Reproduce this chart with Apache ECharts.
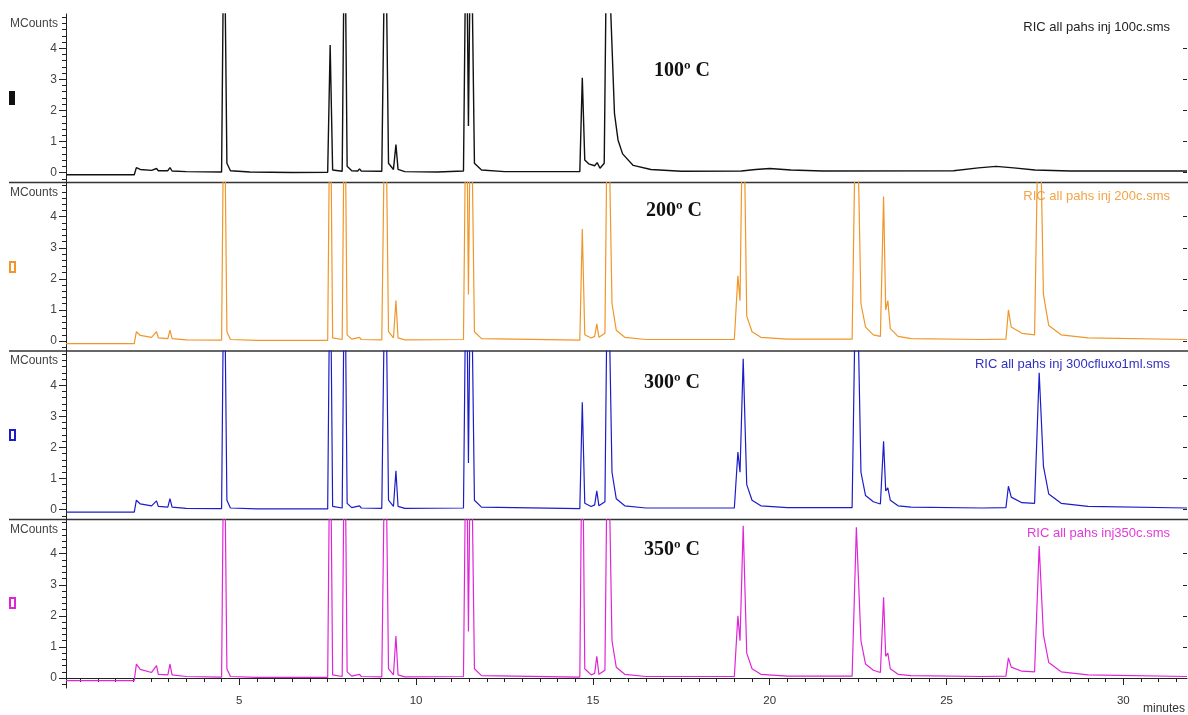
<!DOCTYPE html>
<html>
<head>
<meta charset="utf-8">
<script src="https://cdn.jsdelivr.net/npm/echarts@6/dist/echarts.min.js"></script>
<style>
  html, body { margin: 0; padding: 0; background: #ffffff; }
  #chart { width: 1188px; height: 715px; }
</style>
</head>
<body>
<div id="chart"></div>
<script>
// Retention time (minutes) vs. RIC intensity (MCounts), one trace per injector temperature.
const ric100 = [
  [0.1,-0.07],[2.03,-0.07],[2.09,0.16],[2.2,0.1],[2.52,0.07],[2.66,0.13],[2.71,0.06],[2.98,0.06],[3.04,0.16],[3.1,0.05],
  [3.5,0.03],[4.5,0.02],[4.57,9],[4.65,0.3],[4.75,0.06],[5.3,0.02],[6.5,0.0],[7.5,0.01],[7.57,4.1],[7.64,0.08],
  [7.91,0.04],[7.98,9],[8.05,0.2],[8.18,0.06],[8.35,0.05],[8.4,0.12],[8.45,0.05],[9.03,0.04],[9.13,9],[9.22,0.3],
  [9.36,0.1],[9.43,0.9],[9.49,0.1],[9.68,0.03],[10.6,0.02],[11.34,0.05],[11.42,9],[11.48,1.5],[11.55,9],[11.65,0.3],
  [11.85,0.08],[12.5,0.03],[14.63,0.03],[14.7,3.05],[14.77,0.4],[14.88,0.28],[15.05,0.22],[15.12,0.32],[15.2,0.14],[15.32,0.3],
  [15.4,9],[15.51,5],[15.61,1.9],[15.71,1.05],[15.84,0.6],[16.14,0.23],[16.64,0.1],[17.5,0.04],[19.2,0.05],[19.6,0.1],
  [20.0,0.13],[20.6,0.08],[21.5,0.05],[25.2,0.06],[25.9,0.15],[26.4,0.2],[26.9,0.15],[27.5,0.08],[28.5,0.05],[31.8,0.05]
];
const ric200 = [
  [0.1,-0.08],[2.03,-0.08],[2.09,0.3],[2.2,0.18],[2.52,0.12],[2.66,0.3],[2.71,0.1],[2.98,0.08],[3.04,0.35],[3.1,0.08],
  [3.5,0.04],[4.5,0.03],[4.57,9],[4.65,0.3],[4.75,0.05],[5.5,0.02],[7.5,0.02],[7.57,9],[7.64,0.1],[7.91,0.05],
  [7.98,9],[8.05,0.2],[8.18,0.06],[8.4,0.12],[8.45,0.05],[9.03,0.04],[9.13,9],[9.22,0.3],[9.36,0.1],[9.43,1.3],
  [9.49,0.1],[9.68,0.04],[11.34,0.05],[11.42,9],[11.48,1.5],[11.55,9],[11.65,0.3],[11.85,0.08],[14.63,0.03],[14.7,3.6],
  [14.77,0.2],[14.95,0.1],[15.05,0.15],[15.11,0.55],[15.17,0.12],[15.34,0.25],[15.42,9],[15.54,1.2],[15.66,0.35],[15.9,0.12],
  [16.5,0.05],[19.0,0.05],[19.1,2.1],[19.16,1.3],[19.25,9],[19.35,0.8],[19.5,0.3],[19.75,0.12],[20.5,0.06],[22.33,0.06],
  [22.45,9],[22.58,1.2],[22.71,0.45],[22.93,0.2],[23.13,0.15],[23.22,4.65],[23.28,1.0],[23.34,1.3],[23.41,0.4],[23.63,0.15],
  [24.0,0.08],[26.0,0.05],[26.68,0.06],[26.75,1.0],[26.83,0.45],[27.13,0.25],[27.49,0.2],[27.62,9],[27.74,1.5],[27.89,0.5],
  [28.24,0.2],[29.0,0.1],[31.8,0.05]
];
const ric300 = [
  [0.1,-0.08],[2.03,-0.08],[2.09,0.3],[2.2,0.18],[2.52,0.12],[2.66,0.28],[2.71,0.1],[2.98,0.08],[3.04,0.35],[3.1,0.08],
  [3.5,0.04],[4.5,0.03],[4.57,9],[4.65,0.3],[4.75,0.05],[5.5,0.02],[7.5,0.02],[7.57,9],[7.64,0.1],[7.91,0.05],
  [7.98,9],[8.05,0.2],[8.18,0.06],[8.4,0.12],[8.45,0.05],[9.03,0.04],[9.13,9],[9.22,0.3],[9.36,0.1],[9.43,1.25],
  [9.49,0.1],[9.68,0.04],[11.34,0.05],[11.42,9],[11.48,1.5],[11.55,9],[11.65,0.3],[11.85,0.08],[14.63,0.03],[14.7,3.45],
  [14.77,0.2],[14.95,0.1],[15.05,0.15],[15.11,0.6],[15.17,0.12],[15.34,0.25],[15.42,9],[15.54,1.2],[15.66,0.35],[15.9,0.12],
  [16.5,0.05],[19.0,0.05],[19.1,1.85],[19.16,1.2],[19.25,4.85],[19.35,0.8],[19.5,0.3],[19.75,0.12],[20.5,0.06],[22.33,0.06],
  [22.45,9],[22.58,1.2],[22.71,0.45],[22.93,0.25],[23.13,0.18],[23.22,2.2],[23.28,0.6],[23.34,0.7],[23.41,0.3],[23.63,0.12],
  [24.0,0.08],[26.0,0.05],[26.68,0.06],[26.75,0.75],[26.83,0.4],[27.13,0.22],[27.49,0.2],[27.62,4.4],[27.74,1.4],[27.89,0.5],
  [28.24,0.2],[29.0,0.1],[31.8,0.05]
];
const ric350 = [
  [0.1,-0.08],[2.03,-0.08],[2.09,0.45],[2.2,0.28],[2.52,0.18],[2.66,0.4],[2.71,0.12],[2.98,0.1],[3.04,0.45],[3.1,0.1],
  [3.5,0.05],[4.5,0.03],[4.57,9],[4.65,0.3],[4.75,0.05],[5.5,0.02],[7.5,0.02],[7.57,9],[7.64,0.1],[7.91,0.05],
  [7.98,9],[8.05,0.2],[8.18,0.06],[8.4,0.12],[8.45,0.05],[9.03,0.04],[9.13,9],[9.22,0.3],[9.36,0.1],[9.43,1.35],
  [9.49,0.1],[9.68,0.04],[11.34,0.05],[11.42,9],[11.48,1.5],[11.55,9],[11.65,0.3],[11.85,0.08],[14.63,0.03],[14.7,9],
  [14.77,0.3],[14.95,0.1],[15.05,0.15],[15.11,0.7],[15.17,0.12],[15.34,0.25],[15.42,9],[15.54,1.2],[15.66,0.35],[15.9,0.12],
  [16.5,0.05],[19.0,0.05],[19.1,2.0],[19.16,1.2],[19.25,4.9],[19.35,0.8],[19.5,0.3],[19.75,0.12],[20.5,0.06],[22.33,0.06],
  [22.45,4.85],[22.58,1.2],[22.71,0.45],[22.93,0.25],[23.13,0.18],[23.22,2.6],[23.28,0.7],[23.34,0.8],[23.41,0.3],[23.63,0.12],
  [24.0,0.08],[26.0,0.05],[26.68,0.06],[26.75,0.65],[26.83,0.35],[27.13,0.22],[27.49,0.2],[27.62,4.25],[27.74,1.4],[27.89,0.5],
  [28.24,0.2],[29.0,0.1],[31.8,0.05]
];

// Axis tick positions
const minuteTicks = [5, 10, 15, 20, 25, 30];
const minuteMinorTicks = [0.5,1,1.5,2,2.5,3,3.5,4,4.5,5.5,6,6.5,7,7.5,8,8.5,9,9.5,10.5,11,11.5,12,12.5,13,13.5,14,14.5,
  15.5,16,16.5,17,17.5,18,18.5,19,19.5,20.5,21,21.5,22,22.5,23,23.5,24,24.5,25.5,26,26.5,27,27.5,28,28.5,29,29.5,30.5,31,31.5];
const countTicks = [0, 1, 2, 3, 4];
const countMinorTicks = [-0.2,0.2,0.4,0.6,0.8,1.2,1.4,1.6,1.8,2.2,2.4,2.6,2.8,3.2,3.4,3.6,3.8,4.2,4.4,4.6,4.8,5.0];

// Trace descriptions
const runFiles = ['RIC all pahs inj 100c.sms', 'RIC all pahs inj 200c.sms', 'RIC all pahs inj 300cfluxo1ml.sms', 'RIC all pahs inj350c.sms'];
const runTemps = ['100º C', '200º C', '300º C', '350º C'];
const runColors = ['#111111', '#f0962a', '#1c1cc8', '#e025d8'];
const runFileColors = ['#222222', '#f2a448', '#3030c0', '#e03ad8'];
const runData = [ric100, ric200, ric300, ric350];

const X_MIN = 0.1, X_MAX = 31.8;
const Y_MIN = -0.32, Y_MAX = 5.1;
const PANEL_TOPS = [14, 182.5, 351, 519.5];
const PANEL_H = 168.5;
const AXIS_COLOR = '#222222';
const SANS = 'Liberation Sans, Arial, sans-serif';

const grids = PANEL_TOPS.map(t => ({ left: 66, right: 1, top: t, height: PANEL_H }));

const xAxes = PANEL_TOPS.map((t, i) => ({
  gridIndex: i, type: 'value', min: X_MIN, max: X_MAX, position: 'bottom',
  show: i === 3,
  axisLine: { show: true, lineStyle: { color: AXIS_COLOR, width: 1 } },
  axisTick: { show: true, customValues: minuteTicks, length: 7, lineStyle: { color: AXIS_COLOR } },
  axisLabel: { show: true, customValues: minuteTicks, fontSize: 11.5, color: '#333', margin: 7, fontFamily: SANS },
  splitLine: { show: false }
}));
xAxes.push({
  gridIndex: 3, type: 'value', min: X_MIN, max: X_MAX, position: 'bottom',
  axisLine: { show: false },
  axisTick: { show: true, customValues: minuteMinorTicks, length: 4, lineStyle: { color: AXIS_COLOR } },
  axisLabel: { show: false },
  splitLine: { show: false }
});

const yAxes = [];
PANEL_TOPS.forEach((t, i) => {
  yAxes.push({
    gridIndex: i, type: 'value', min: Y_MIN, max: Y_MAX, position: 'left',
    axisLine: { show: true, lineStyle: { color: AXIS_COLOR, width: 1 } },
    axisTick: { show: true, customValues: countTicks, length: 7, lineStyle: { color: AXIS_COLOR } },
    axisLabel: { show: true, customValues: countTicks, fontSize: 12, color: '#444', margin: 9, fontFamily: SANS },
    splitLine: { show: false }
  });
  yAxes.push({
    gridIndex: i, type: 'value', min: Y_MIN, max: Y_MAX, position: 'left',
    axisLine: { show: false },
    axisTick: { show: true, customValues: countMinorTicks, length: 4, lineStyle: { color: AXIS_COLOR } },
    axisLabel: { show: false },
    splitLine: { show: false }
  });
  yAxes.push({
    gridIndex: i, type: 'value', min: Y_MIN, max: Y_MAX, position: 'right',
    axisLine: { show: false },
    axisTick: { show: true, inside: true, customValues: countTicks, length: 4, lineStyle: { color: AXIS_COLOR } },
    axisLabel: { show: false },
    splitLine: { show: false }
  });
});

const series = runData.map((d, i) => ({
  type: 'line',
  name: runFiles[i],
  xAxisIndex: i,
  yAxisIndex: i * 3,
  data: d,
  showSymbol: false,
  clip: true,
  lineStyle: { color: runColors[i], width: i === 0 ? 1.4 : 1.2 },
  silent: true
}));

// Panel decorations: separators, unit labels, trace markers, file names, temperatures
const graphics = [];
const tempPos = [[654, 61], [646, 201], [644, 373], [644, 540]];
const markerY = [91, 262, 430, 598];
PANEL_TOPS.forEach((t, i) => {
  if (i > 0) {
    graphics.push({ type: 'line', shape: { x1: 9, y1: t, x2: 1188, y2: t }, style: { stroke: '#333', lineWidth: 1.5 } });
  }
  graphics.push({ type: 'text', x: 10, y: t + 4, style: { text: 'MCounts', font: '12px ' + SANS, fill: '#444' } });
  graphics.push({ type: 'text', right: 18, top: t + 7, style: { text: runFiles[i], font: '13px ' + SANS, fill: runFileColors[i] } });
  graphics.push({ type: 'text', x: tempPos[i][0], y: tempPos[i][1], style: { text: runTemps[i], font: 'bold 20px "Liberation Serif", "Times New Roman", serif', fill: '#111' } });
  if (i === 0) {
    graphics.push({ type: 'rect', shape: { x: 9, y: markerY[i], width: 6, height: 14 }, style: { fill: runColors[i] } });
  } else {
    graphics.push({ type: 'rect', shape: { x: 10, y: markerY[i], width: 5, height: 10 }, style: { fill: 'none', stroke: runColors[i], lineWidth: 2 } });
  }
});
graphics.push({ type: 'text', x: 1143, y: 703, style: { text: 'minutes', font: '12px ' + SANS, fill: '#333' } });

const chart = echarts.init(document.getElementById('chart'), null, { renderer: 'canvas' });
chart.setOption({
  animation: false,
  backgroundColor: '#ffffff',
  grid: grids,
  xAxis: xAxes,
  yAxis: yAxes,
  series: series,
  graphic: graphics
});
</script>
</body>
</html>
